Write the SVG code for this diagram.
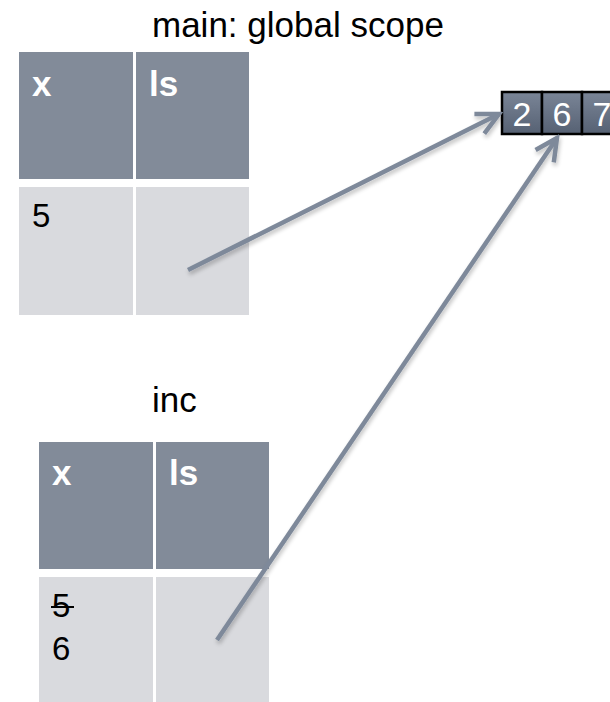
<svg xmlns="http://www.w3.org/2000/svg" width="610" height="702" viewBox="0 0 610 702">
  <style>
    .title { font-family: "Liberation Sans", Arial, sans-serif; font-size: 35px; fill: #000; }
    .head { fill: #828B99; }
    .body { fill: #D9DADE; }
    .hlabel { font-family: "Liberation Sans", Arial, sans-serif; font-size: 35px; font-weight: bold; fill: #fff; }
    .val { font-family: "Liberation Sans", Arial, sans-serif; font-size: 33px; fill: #000; }
    .cell { fill: url(#cellGrad); stroke: #000; stroke-width: 2.5; }
    .digit { font-family: "Liberation Sans", Arial, sans-serif; font-size: 34px; fill: #fff; text-anchor: middle; }
    .ref { stroke: #7E899A; stroke-width: 4.5; fill: none; stroke-linecap: butt; marker-end: url(#open); filter: url(#shade); }
  </style>
  <defs>
    <linearGradient id="cellGrad" x1="0" y1="0" x2="0" y2="1">
      <stop offset="0" stop-color="#7A8597"/>
      <stop offset="1" stop-color="#566173"/>
    </linearGradient>
    <marker id="open" markerUnits="userSpaceOnUse" viewBox="-26 -14 30 28" refX="0" refY="0" markerWidth="30" markerHeight="28" orient="auto">
      <path d="M-22,-11 L0,0 L-22,11" fill="none" stroke="#7E899A" stroke-width="4.5" stroke-linejoin="miter"/>
    </marker>
    <filter id="shade" x="-20%" y="-20%" width="140%" height="140%">
      <feGaussianBlur in="SourceAlpha" stdDeviation="2"/>
      <feOffset dx="1" dy="3" result="b"/>
      <feComponentTransfer><feFuncA type="linear" slope="0.25"/></feComponentTransfer>
      <feMerge><feMergeNode/><feMergeNode in="SourceGraphic"/></feMerge>
    </filter>
  </defs>

  <rect width="610" height="702" fill="#fff"/>

  <!-- global frame -->
  <g id="frame-main">
    <text class="title" x="152" y="37">main: global scope</text>
    <rect class="head" x="19" y="52" width="114" height="127"/>
    <rect class="head" x="136" y="52" width="113" height="127"/>
    <rect class="body" x="19" y="187" width="114" height="128"/>
    <rect class="body" x="136" y="187" width="113" height="128"/>
    <text class="hlabel" x="32" y="96">x</text>
    <text class="hlabel" x="149" y="96">ls</text>
    <text class="val" x="32" y="227">5</text>
  </g>

  <!-- frame of inc -->
  <g id="frame-inc">
    <text class="title" x="152" y="412">inc</text>
    <rect class="head" x="39" y="442" width="114" height="127"/>
    <rect class="head" x="156" y="442" width="113" height="127"/>
    <rect class="body" x="39" y="577" width="114" height="128"/>
    <rect class="body" x="156" y="577" width="113" height="128"/>
    <text class="hlabel" x="52" y="485">x</text>
    <text class="hlabel" x="169" y="485">ls</text>
    <text class="val" x="52" y="617">5</text>
    <line x1="51" y1="607" x2="74" y2="607" stroke="#000" stroke-width="2"/>
    <text class="val" x="52" y="660">6</text>
  </g>

  <!-- the list object -->
  <g id="list">
    <rect class="cell" x="502" y="92" width="40" height="42"/>
    <rect class="cell" x="542" y="92" width="40" height="42"/>
    <rect class="cell" x="582" y="92" width="40" height="42"/>
    <text class="digit" x="522" y="126">2</text>
    <text class="digit" x="562" y="126">6</text>
    <text class="digit" x="602" y="126">7</text>
  </g>

  <g id="connectors">
    <line class="ref" x1="188" y1="270" x2="499" y2="114"/>
    <line class="ref" x1="217" y1="640" x2="557" y2="138"/>
  </g>
</svg>
